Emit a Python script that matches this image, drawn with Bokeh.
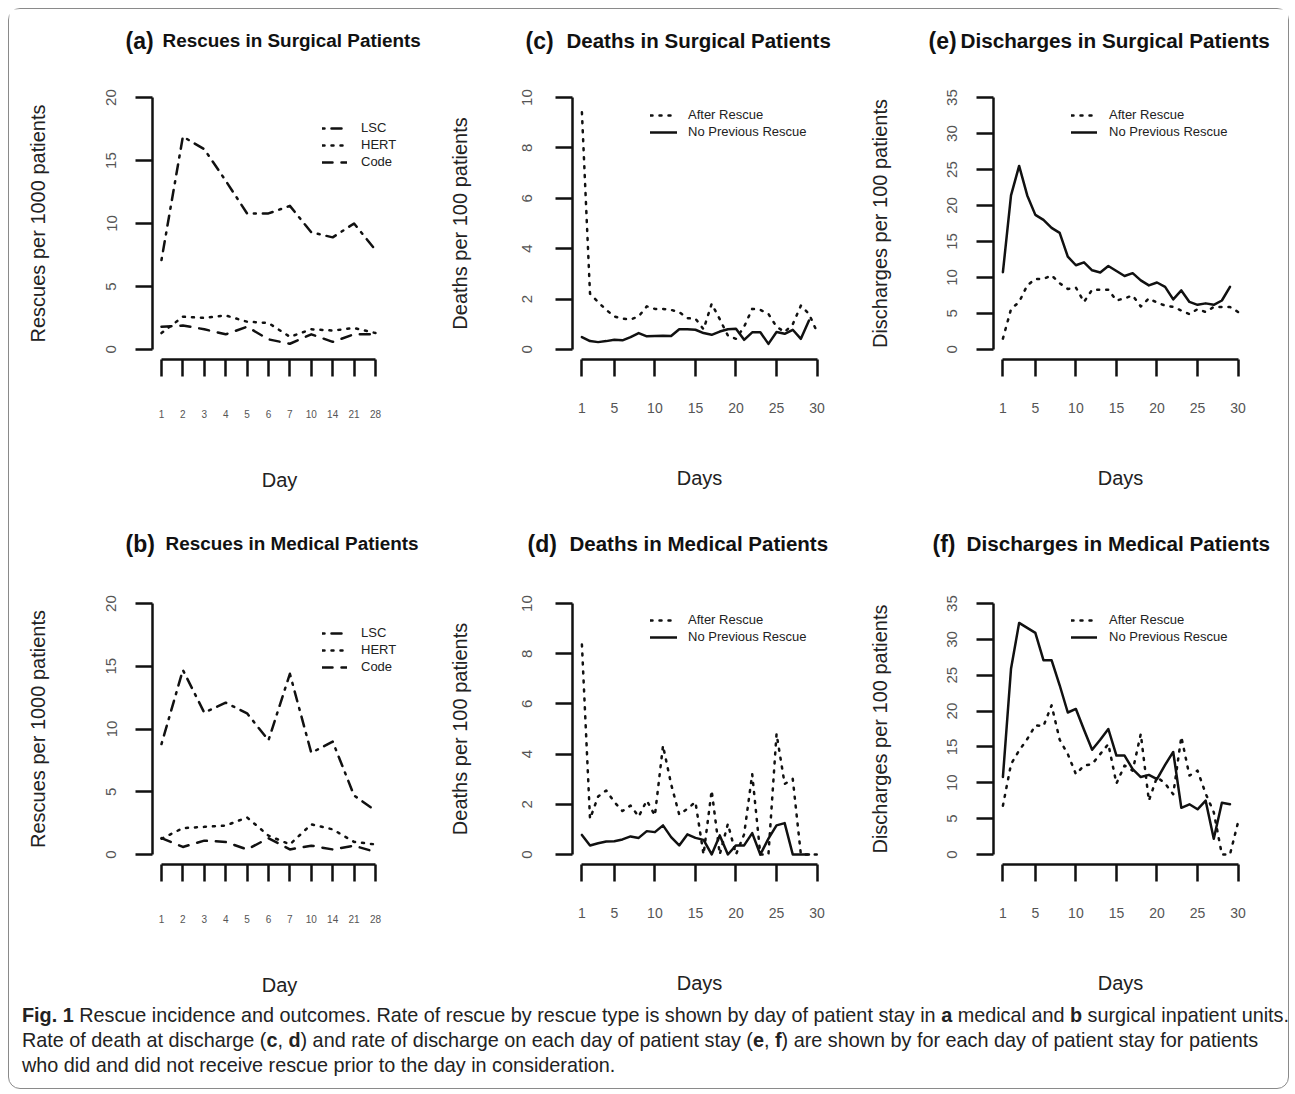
from bokeh.plotting import figure
from bokeh.models import FixedTicker, Range1d, Legend, LegendItem, Div
from bokeh.layouts import column, row
from bokeh.core.properties import value
from bokeh.embed import file_html
from bokeh.resources import INLINE

FONT = "Liberation Sans"
INK = "#111111"

# ---------------- data ----------------
rescue_day_labels = ["1", "2", "3", "4", "5", "6", "7", "10", "14", "21", "28"]
rescue_idx = list(range(1, 12))

surg_lsc = [7.1, 16.9, 15.9, 13.4, 10.8, 10.8, 11.4, 9.3, 8.9, 10.0, 7.9]
surg_hert = [1.3, 2.6, 2.5, 2.7, 2.2, 2.1, 1.0, 1.6, 1.5, 1.7, 1.3]
surg_code = [1.8, 1.9, 1.6, 1.2, 1.8, 0.8, 0.45, 1.2, 0.6, 1.2, 1.2]

med_lsc = [8.8, 14.7, 11.3, 12.1, 11.25, 9.1, 14.4, 8.1, 9.0, 4.7, 3.5]
med_hert = [1.25, 2.1, 2.2, 2.3, 2.95, 1.5, 0.8, 2.4, 2.0, 1.0, 0.8]
med_code = [1.3, 0.6, 1.1, 1.0, 0.4, 1.3, 0.4, 0.7, 0.4, 0.7, 0.2]

days = list(range(1, 31))

surg_death_after = [9.42, 2.21, 1.88, 1.57, 1.31, 1.22, 1.19, 1.31, 1.71, 1.61,
                    1.61, 1.57, 1.48, 1.24, 1.22, 0.8, 1.81, 1.2, 0.55, 0.42,
                    0.9, 1.61, 1.57, 1.41, 0.9, 0.69, 1.0, 1.74, 1.41, 0.69]
surg_death_none = [0.49, 0.33, 0.29, 0.33, 0.38, 0.36, 0.49, 0.65, 0.52, 0.53,
                   0.54, 0.53, 0.80, 0.80, 0.78, 0.65, 0.58, 0.71, 0.80, 0.82,
                   0.38, 0.68, 0.68, 0.22, 0.69, 0.62, 0.78, 0.42, 1.15]

med_death_after = [8.37, 1.42, 2.31, 2.55, 2.09, 1.73, 1.95, 1.51, 2.15, 1.55,
                   4.34, 2.8, 1.59, 1.82, 2.09, 0.0, 2.55, 0.0, 1.22, 0.0,
                   0.8, 3.2, 0.0, 0.0, 4.81, 2.81, 3.01, 0.0, 0.0, 0.0]
med_death_none = [0.78, 0.36, 0.45, 0.52, 0.53, 0.60, 0.72, 0.66, 0.93, 0.89,
                  1.16, 0.69, 0.36, 0.80, 0.66, 0.58, 0.0, 0.76, 0.0, 0.36,
                  0.36, 0.85, 0.0, 0.63, 1.16, 1.25, 0.0, 0.0, 0.0]

surg_disch_after = [1.5, 5.6, 6.6, 8.9, 9.8, 9.8, 10.3, 9.2, 8.4, 8.6,
                    6.6, 8.3, 8.3, 8.3, 6.8, 7.1, 7.5, 5.97, 7.1, 6.5,
                    6.1, 5.9, 5.4, 4.9, 5.6, 5.2, 5.9, 5.9, 5.9, 5.2]
surg_disch_none = [10.74, 21.4, 25.5, 21.4, 18.7, 18.0, 16.9, 16.2, 12.9, 11.7,
                   12.1, 11.0, 10.7, 11.6, 10.9, 10.2, 10.6, 9.6, 8.9, 9.3,
                   8.7, 6.95, 8.2, 6.6, 6.2, 6.4, 6.2, 6.8, 8.7]

med_disch_after = [6.8, 12.6, 14.5, 16.1, 18.0, 17.9, 20.8, 16.0, 14.0, 11.2,
                   12.4, 12.6, 14.0, 15.4, 9.9, 12.4, 11.7, 16.8, 7.5, 10.8,
                   9.9, 8.4, 16.4, 11.0, 11.7, 8.5, 5.9, 0.0, 0.0, 4.5]
med_disch_none = [10.8, 25.9, 32.3, 31.6, 30.9, 27.1, 27.1, 23.6, 19.8, 20.3,
                  17.4, 14.6, 16.0, 17.5, 13.8, 13.8, 11.9, 10.8, 11.1, 10.5,
                  12.5, 14.3, 6.5, 7.0, 6.3, 7.5, 2.2, 7.2, 7.0]

day_ticks = [1, 5, 10, 15, 20, 25, 30]

top_tags = ["(a)", "(c)", "(e)"]
top_titles = ["Rescues in Surgical Patients", "Deaths in Surgical Patients",
              "Discharges in Surgical Patients"]
bottom_tags = ["(b)", "(d)", "(f)"]
bottom_titles = ["Rescues in Medical Patients", "Deaths in Medical Patients",
                 "Discharges in Medical Patients"]

caption_lines = [
    "<b>Fig. 1</b> Rescue incidence and outcomes. Rate of rescue by rescue type is shown by day of patient stay in <b>a</b> medical and <b>b</b> surgical inpatient units.",
    "Rate of death at discharge (<b>c</b>, <b>d</b>) and rate of discharge on each day of patient stay (<b>e</b>, <b>f</b>) are shown by for each day of patient stay for patients",
    "who did and did not receive rescue prior to the day in consideration.",
]

DASH = {"LSC": "2 7 10 7", "HERT": "2 7", "Code": "10 9",
        "After Rescue": "2 7", "No Previous Rescue": "solid"}

# ---------------- panel builder ----------------
FRAME_W = 254


def make_panel(width, height, b_left, b_top, frame_h,
               xr, yr, yticks, xticks, xoverrides, ylabel, xlabel,
               ytick_standoff, ylabel_standoff,
               xtick_size, xtick_standoff, xlabel_standoff,
               series, leg_x, leg_y, glyph_w, leg_standoff):
    b_right = width - b_left - FRAME_W
    b_bottom = height - b_top - frame_h
    p = figure(width=width, height=height,
               min_border_left=b_left, min_border_right=b_right,
               min_border_top=b_top, min_border_bottom=b_bottom,
               x_range=Range1d(*xr), y_range=Range1d(*yr),
               output_backend="svg", toolbar_location=None, title=None)
    p.xgrid.visible = False
    p.ygrid.visible = False
    p.outline_line_color = None
    p.background_fill_color = "white"
    p.border_fill_color = "white"

    for ax in (p.xaxis[0], p.yaxis[0]):
        ax.axis_line_width = 2.5
        ax.axis_line_color = INK
        ax.major_tick_line_width = 2.5
        ax.major_tick_line_color = INK
        ax.major_tick_out = 17
        ax.major_tick_in = 0
        ax.minor_tick_line_color = None
        ax.major_label_text_font = FONT
        ax.major_label_text_color = "#555555"
        ax.axis_label_text_font = FONT
        ax.axis_label_text_font_style = "normal"
        ax.axis_label_text_font_size = "20px"
        ax.axis_label_text_color = "#222222"

    ya = p.yaxis[0]
    ya.ticker = FixedTicker(ticks=yticks)
    ya.bounds = (yticks[0], yticks[-1])
    ya.major_label_orientation = "vertical"
    ya.major_label_text_font_size = "15px"
    ya.major_label_standoff = ytick_standoff
    ya.axis_label = ylabel
    ya.axis_label_standoff = ylabel_standoff

    xa = p.xaxis[0]
    xa.ticker = FixedTicker(ticks=xticks)
    xa.bounds = (xticks[0], xticks[-1])
    if xoverrides:
        xa.major_label_overrides = xoverrides
    xa.major_label_text_font_size = xtick_size
    xa.major_label_standoff = xtick_standoff
    xa.axis_label = xlabel
    xa.axis_label_standoff = xlabel_standoff

    items = []
    for xs, ys, name in series:
        r = p.line(xs, ys, line_width=2.5, line_color=INK,
                   line_dash=DASH[name], line_cap="round", line_join="round")
        items.append(LegendItem(label=name, renderers=[r]))
    leg = Legend(items=items, location=(leg_x, leg_y), orientation="vertical",
                 border_line_color=None, background_fill_alpha=0,
                 padding=0, margin=0, spacing=1,
                 glyph_width=glyph_w, glyph_height=16, label_height=16,
                 label_standoff=leg_standoff,
                 label_text_font=FONT, label_text_font_size="13px",
                 label_text_color="#222222")
    p.add_layout(leg)
    return p


def title_strip(top, height, tags, titles, tag_x, title_x, title_sizes, y_mid):
    s = figure(width=1279, height=height, x_range=Range1d(9, 1288),
               y_range=Range1d(top + height, top), min_border=0,
               output_backend="svg", toolbar_location=None, title=None,
               x_axis_location=None, y_axis_location=None)
    s.xgrid.visible = False
    s.ygrid.visible = False
    s.outline_line_color = None
    s.text(x=tag_x, y=[y_mid] * len(tags), text=tags,
           text_font=value(FONT), text_font_size="23px", text_font_style="bold",
           text_baseline="middle", text_align="left", text_color="#111111")
    for tx, tt, fs in zip(title_x, titles, title_sizes):
        s.text(x=[tx], y=[y_mid], text=[tt],
               text_font=value(FONT), text_font_size=fs, text_font_style="bold",
               text_baseline="middle", text_align="left", text_color="#111111")
    return s


rescue_over = {i: lab for i, lab in zip(rescue_idx, rescue_day_labels)}

# page geometry (content starts at 9,9 inside the 1px border)
S1_TOP, S1_H = 9, 60          # title strip 1: 9..69
R1_H = 436                    # panels row 1: 69..505 (frame 87..359)
S2_TOP, S2_H = 505, 60        # title strip 2: 505..565
R2_H = 437                    # panels row 2: 565..1002 (frame 593..864)
W1, W2, W3 = 421, 420, 438
TITLE_SIZES = ["18.9px", "20.5px", "20.7px"]

strip1 = title_strip(S1_TOP, S1_H, top_tags, top_titles,
                     [125, 525, 928], [162, 566, 960], TITLE_SIZES, 40)
strip2 = title_strip(S2_TOP, S2_H, bottom_tags, bottom_titles,
                     [125, 527, 932], [165, 569, 966], TITLE_SIZES, 543)

pa = make_panel(W1, R1_H, 143, 18, 272,
                (0.58, 12.45), (-0.8, 20.8), [0, 5, 10, 15, 20], rescue_idx, rescue_over,
                "Rescues per 1000 patients", "Day", 19, 55, "10px", 33, 48,
                [(rescue_idx, surg_lsc, "LSC"), (rescue_idx, surg_hert, "HERT"),
                 (rescue_idx, surg_code, "Code")],
                170, 189.5, 25, 14)
pb = make_panel(W1, R2_H, 143, 28, 271,
                (0.58, 12.45), (-0.8, 20.8), [0, 5, 10, 15, 20], rescue_idx, rescue_over,
                "Rescues per 1000 patients", "Day", 19, 55, "10px", 33, 48,
                [(rescue_idx, med_lsc, "LSC"), (rescue_idx, med_hert, "HERT"),
                 (rescue_idx, med_code, "Code")],
                170, 189.5, 25, 14)

pc = make_panel(W2, R1_H, 142, 18, 272,
                (-0.16, 31.16), (-0.4, 10.4), [0, 2, 4, 6, 8, 10], day_ticks, None,
                "Deaths per 100 patients", "Days", 23, 49, "14px", 26, 51,
                [(days, surg_death_after, "After Rescue"),
                 (days[:29], surg_death_none, "No Previous Rescue")],
                78, 219.5, 27, 11)
pd_ = make_panel(W2, R2_H, 142, 28, 271,
                 (-0.16, 31.16), (-0.4, 10.4), [0, 2, 4, 6, 8, 10], day_ticks, None,
                 "Deaths per 100 patients", "Days", 23, 49, "14px", 26, 51,
                 [(days, med_death_after, "After Rescue"),
                  (days[:29], med_death_none, "No Previous Rescue")],
                 78, 219.5, 27, 11)

pe = make_panel(W3, R1_H, 143, 18, 272,
                (-0.16, 31.16), (-1.4, 36.4), [0, 5, 10, 15, 20, 25, 30, 35], day_ticks, None,
                "Discharges per 100 patients", "Days", 19, 54, "14px", 26, 51,
                [(days, surg_disch_after, "After Rescue"),
                 (days[:29], surg_disch_none, "No Previous Rescue")],
                78, 219.5, 26, 12)
pf = make_panel(W3, R2_H, 143, 28, 271,
                (-0.16, 31.16), (-1.4, 36.4), [0, 5, 10, 15, 20, 25, 30, 35], day_ticks, None,
                "Discharges per 100 patients", "Days", 19, 54, "14px", 26, 51,
                [(days, med_disch_after, "After Rescue"),
                 (days[:29], med_disch_none, "No Previous Rescue")],
                78, 219.5, 26, 12)

caption_html = (
    '<div style="margin:-5px 0 0 8px; font-family:\'Liberation Sans\',Arial,sans-serif;'
    ' font-size:21px; line-height:25px; white-space:nowrap; color:#222;'
    ' transform:scaleX(0.943); transform-origin:0 0;">'
    + "<br>".join(caption_lines) + "</div>"
)
cap = Div(text=caption_html, width=1269, height=76)

layout = column(strip1, row(pa, pc, pe), strip2, row(pb, pd_, pf), cap,
                styles={"border": "1px solid #8a8a8a", "border-radius": "12px",
                        "background-color": "white", "margin": "8px 0 0 8px"})

open("out.html", "w").write(file_html(layout, INLINE))
